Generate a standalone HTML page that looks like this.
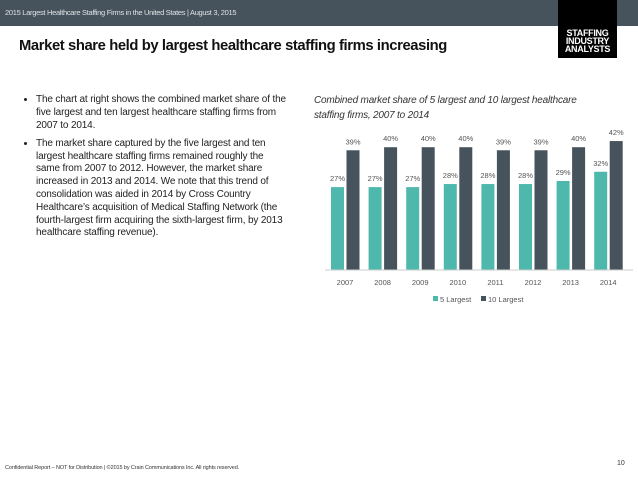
<!DOCTYPE html>
<html><head><meta charset="utf-8"><style>
body{margin:0;width:638px;height:479px;background:#fff;position:relative;overflow:hidden;font-family:"Liberation Sans",sans-serif;}
.hdr{position:absolute;left:0;top:0;width:638px;height:26px;background:#46535c;}
.hdr span{position:absolute;left:5px;top:8px;font-size:7.5px;color:#dfe3e6;letter-spacing:-0.3px}
.logo{position:absolute;left:558px;top:0;width:59px;height:58px;background:#000;color:#fff;font-weight:bold;font-size:9px;line-height:8px;text-align:center;box-sizing:border-box;padding-top:29px;letter-spacing:-0.3px}
h1{position:absolute;left:19px;top:38px;margin:0;font-size:14.8px;font-weight:bold;color:#111;letter-spacing:-0.4px}
ul{position:absolute;left:20px;top:94px;margin:0;padding:0 0 0 16px;font-size:10px;line-height:12.8px;color:#222;letter-spacing:-0.15px;white-space:nowrap}
li{margin-bottom:5.5px}
.ct{position:absolute;left:314px;top:93px;font-size:10px;font-style:italic;color:#333;line-height:15px;letter-spacing:-0.2px}
.foot{position:absolute;left:5px;top:465px;font-size:5.5px;color:#333;letter-spacing:-0.1px}
.pg{position:absolute;left:617px;top:460px;font-size:7px;color:#333}
</style></head><body>
<div class="hdr"><span>2015 Largest Healthcare Staffing Firms in the United States | August 3, 2015</span></div>
<div class="logo">STAFFING<br>INDUSTRY<br>ANALYSTS</div>
<h1>Market share held by largest healthcare staffing firms increasing</h1>
<ul>
<li>The chart at right shows the combined market share of the<br>five largest and ten largest healthcare staffing firms from<br>2007 to 2014.</li>
<li>The market share captured by the five largest and ten<br>largest healthcare staffing firms remained roughly the<br>same from 2007 to 2012. However, the market share<br>increased in 2013 and 2014. We note that this trend of<br>consolidation was aided in 2014 by Cross Country<br>Healthcare’s acquisition of Medical Staffing Network (the<br>fourth-largest firm acquiring the sixth-largest firm, by 2013<br>healthcare staffing revenue).</li>
</ul>
<div class="ct">Combined market share of 5 largest and 10 largest healthcare<br>staffing firms, 2007 to 2014</div>
<svg id="chart" width="638" height="479" style="position:absolute;left:0;top:0"></svg>
<div class="foot">Confidential Report – NOT for Distribution | ©2015 by Crain Communications Inc. All rights reserved.</div>
<div class="pg">10</div>
<script>
const categories=["2007","2008","2009","2010","2011","2012","2013","2014"];
const top5=[27,27,27,28,28,28,29,32];
const top10=[39,40,40,40,39,39,40,42];
const labels5=["27%","27%","27%","28%","28%","28%","29%","32%"];
const labels10=["39%","40%","40%","40%","39%","39%","40%","42%"];
const svg=document.getElementById('chart');
const NS='http://www.w3.org/2000/svg';
const base=270,ppu=3.07,x0=331,step=37.6,bw=13;
const y=v=>base-v*ppu;
const x=i=>x0+i*step;
function mk(t,a){const e=document.createElementNS(NS,t);for(const k in a)e.setAttribute(k,a[k]);svg.appendChild(e);return e;}
categories.forEach((c,i)=>{
 let r=mk('rect',{x:x(i),y:y(top5[i]),width:bw,height:top5[i]*ppu,fill:'#4fb8ac'});
 
 
 let r2=mk('rect',{x:x(i)+15.5,y:y(top10[i]),width:bw,height:top10[i]*ppu,fill:'#46535c'});
 
 
 let t=mk('text',{x:x(i)+bw/2,y:y(top5[i])-6,'font-size':'7.5','text-anchor':'middle',fill:'#555'});t.textContent=labels5[i];
 
 
 let t2=mk('text',{x:x(i)+15.5+bw/2,y:y(top10[i])-6,'font-size':'7.5','text-anchor':'middle',fill:'#555'});t2.textContent=labels10[i];
 
 
 let tx=mk('text',{x:x(i)+14,y:285,'font-size':'7.5','text-anchor':'middle',fill:'#555'});tx.textContent=c;
 
 
});
const ax=mk('line',{x1:325,x2:633,y1:base,y2:base,stroke:'#ccc','stroke-width':1});


const l1=mk('rect',{x:433,y:296,width:5,height:5,fill:'#4fb8ac'});


const lt1=mk('text',{x:440,y:302,'font-size':'7.5',fill:'#555'});lt1.textContent='5 Largest';


const l2=mk('rect',{x:481,y:296,width:5,height:5,fill:'#46535c'});


const lt2=mk('text',{x:488,y:302,'font-size':'7.5',fill:'#555'});lt2.textContent='10 Largest';


</script>
</body></html>
